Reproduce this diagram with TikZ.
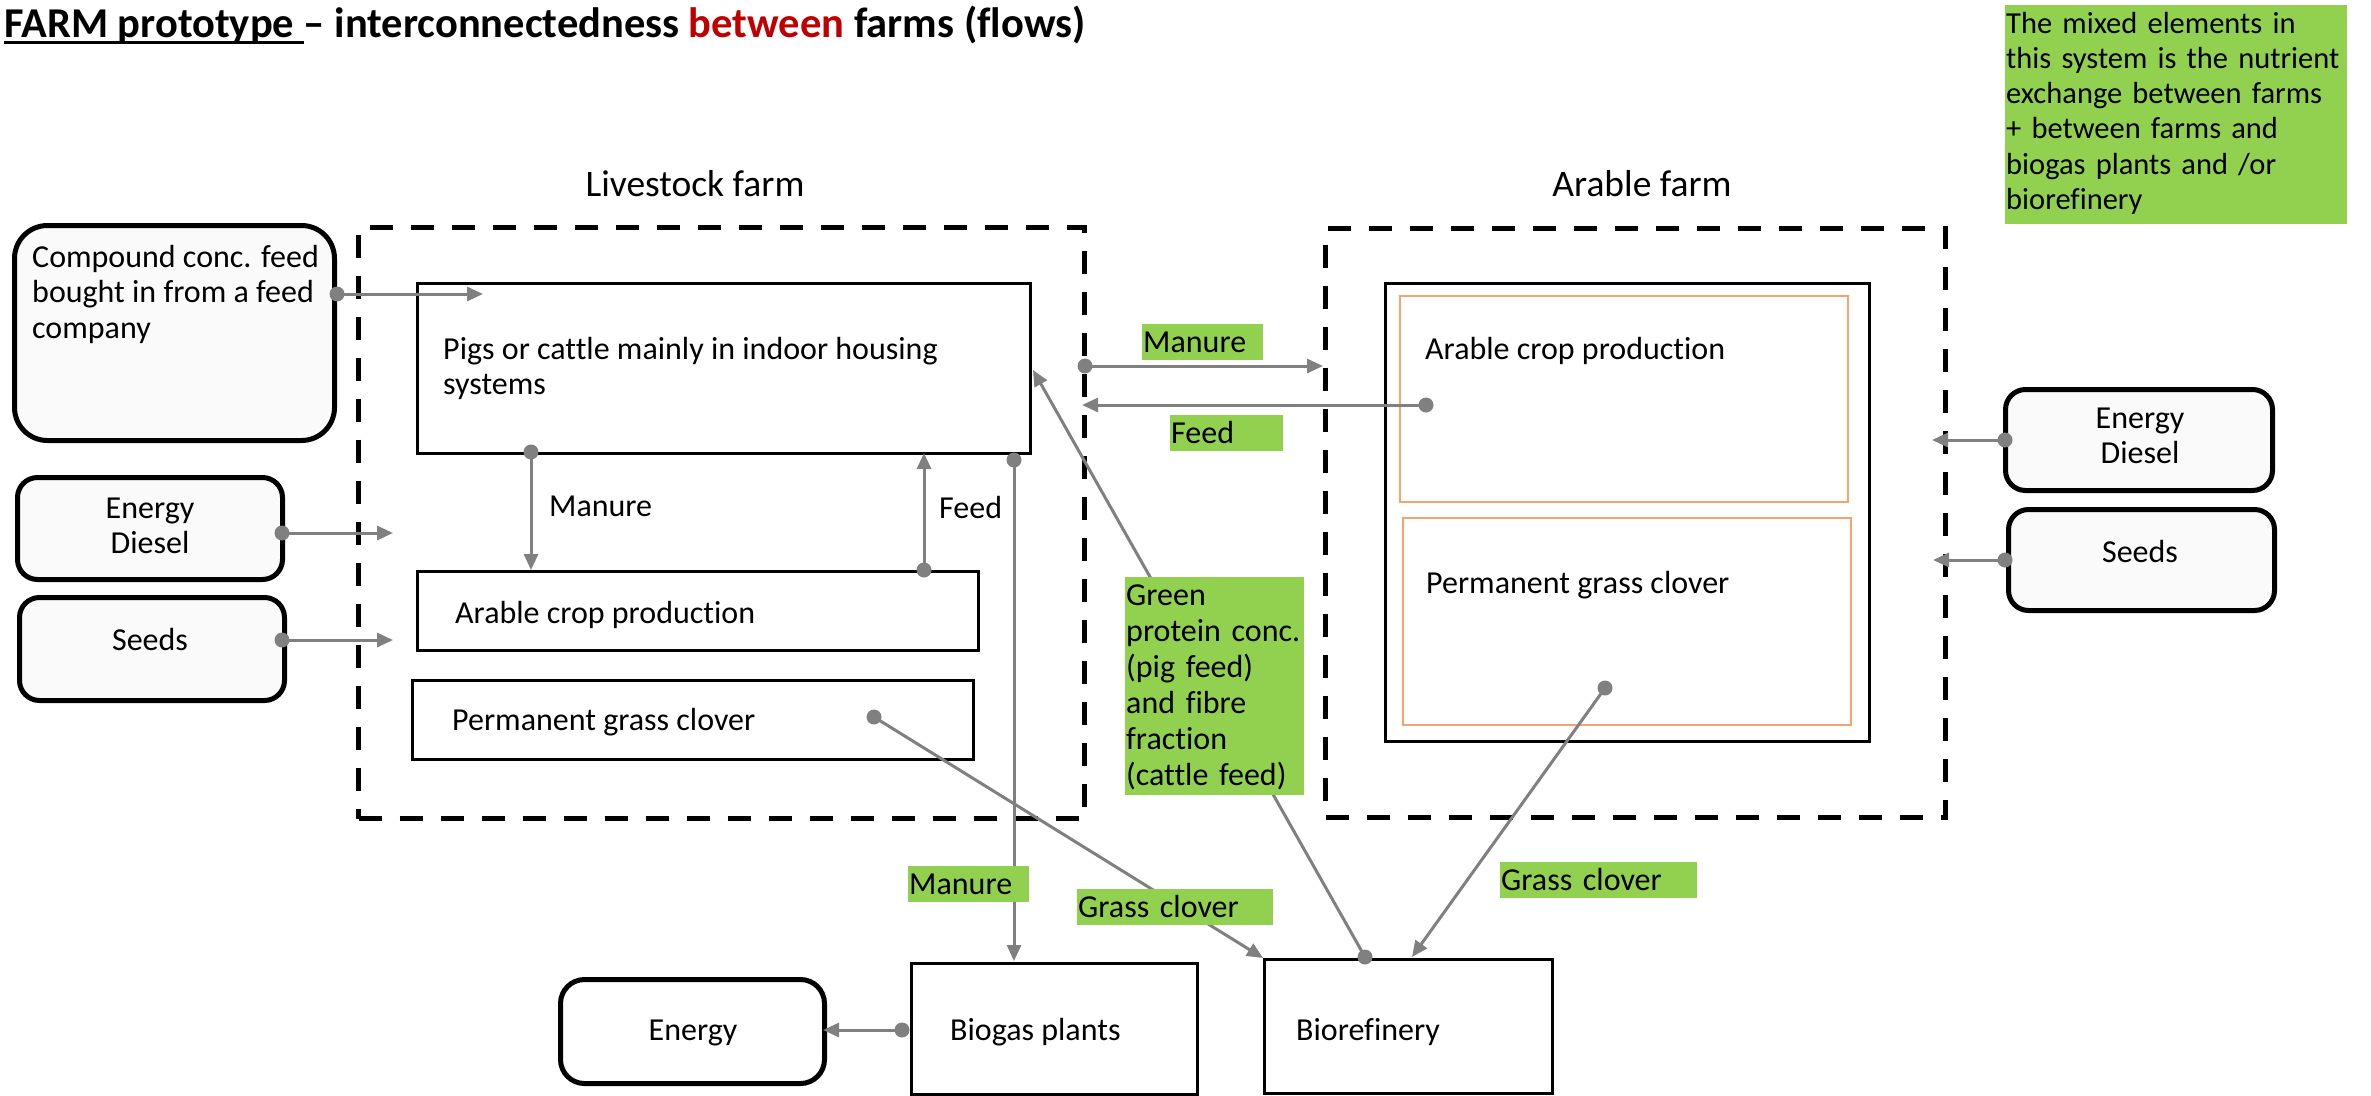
\documentclass[tikz,border=0pt]{standalone}
\usepackage{fontspec}
\setmainfont{Carlito}[Ligatures=NoCommon]
\usetikzlibrary{arrows.meta}

\definecolor{flowgray}{HTML}{808080}
\definecolor{notegreen}{HTML}{92D050}
\definecolor{softfill}{HTML}{FAFAFA}
\definecolor{plotline}{HTML}{F4A46E}
\definecolor{darkred}{HTML}{C00000}

% struts that fix the first baseline and the last depth of text blocks
\newcommand\firstline{\rule{0pt}{28pt}}
\newcommand\lastline[1]{\rule[-#1pt]{0pt}{#1pt}}
\newcommand\tagstrut{\rule[-8pt]{0pt}{36pt}}
% underlined lead-in of the heading
\newcommand\ulbox[1]{\setbox0\hbox{#1}\rlap{\rule[-7pt]{\wd0}{3pt}}\box0}
% grey flow: dot at the start, triangle at the end
\newcommand\flowline[2]{\draw[flow] (#1) -- (#2); \fill[flowgray] (#1) circle (7.5);}

\begin{document}
\begin{tikzpicture}[x=1pt,y=-1pt,
  every node/.style={font=\fontsize{32}{35.5}\selectfont, inner sep=0pt},
  farm/.style={draw, line width=5, dash pattern=on 23pt off 18pt, anchor=north west},
  unit/.style={draw, line width=2.5, anchor=north west},
  plot/.style={draw=plotline, line width=1.6, anchor=north west},
  source/.style={draw, line width=5, fill=softfill, rounded corners=20, anchor=north west},
  tag/.style={fill=notegreen, anchor=north west, inner xsep=1pt, align=left},
  txt/.style={anchor=north west, align=left},
  ctxt/.style={anchor=north, align=center},
  flow/.style={draw=flowgray, line width=3, -{Triangle[length=16pt,width=14pt]}},
]
\useasboundingbox (0,0) rectangle (2371,1095);
\fill[white] (0,0) rectangle (2371,1095);

% heading
\node[anchor=base west, font=\bfseries\fontsize{42.5}{48}\selectfont] (title) at (4,37)
  {\ulbox{FARM prototype\ }– interconnectedness \textcolor{darkred}{between} farms (flows)};

% farm frames
\node[farm, minimum width=726, minimum height=591] (livestock) at (356,225) {};
\node[farm, minimum width=620, minimum height=589] (arable) at (1323,226) {};
\node[anchor=base, font=\fontsize{37.5}{42}\selectfont] (livestockName) at (695,196) {Livestock farm};
\node[anchor=base, font=\fontsize{37.5}{42}\selectfont] (arableName) at (1642,196) {Arable farm};

% livestock farm units
\node[unit, minimum width=613, minimum height=170] (pigs) at (416,282) {};
\node[txt] (pigsText) at (443,331) {\firstline Pigs or cattle mainly in indoor housing\\systems};
\node[unit, minimum width=561, minimum height=79] (cropL) at (416,570) {};
\node[anchor=base west] (cropLText) at (455,623) {Arable crop production};
\node[unit, minimum width=561, minimum height=79] (grassL) at (411,679) {};
\node[anchor=base west] (grassLText) at (452,730) {Permanent grass clover};

% arable farm units
\node[unit, minimum width=484, minimum height=458] (arableUnit) at (1384,282) {};
\node[plot, minimum width=448, minimum height=206] (cropR) at (1399,295) {};
\node[anchor=base west] (cropRText) at (1425,359) {Arable crop production};
\node[plot, minimum width=448, minimum height=207] (grassR) at (1402,517) {};
\node[anchor=base west] (grassRText) at (1426,593) {Permanent grass clover};

% processing plants and outputs
\node[unit, minimum width=286, minimum height=131] (biogas) at (910,962) {};
\node[anchor=base west] (biogasText) at (950,1040) {Biogas plants};
\node[unit, minimum width=288, minimum height=134] (biorefinery) at (1263,958) {};
\node[anchor=base west] (biorefineryText) at (1296,1040) {Biorefinery};
\node[source, fill=white, rounded corners=24, minimum width=264, minimum height=104] (energyOut) at (558,977) {};
\node[anchor=base] (energyOutText) at (693,1040) {Energy};

% flows
\coordinate (cfDot) at (337,294);   \coordinate (cfTip) at (483,294);
\coordinate (elDot) at (282,533);   \coordinate (elTip) at (393,533);
\coordinate (slDot) at (282,640);   \coordinate (slTip) at (393,640);
\coordinate (mDot) at (531,452);    \coordinate (mTip) at (531,570);
\coordinate (fDot) at (924,570);    \coordinate (fTip) at (924,453);
\coordinate (bgDot) at (1014,460);  \coordinate (bgTip) at (1014,961);
\coordinate (mxDot) at (1085,366);  \coordinate (mxTip) at (1323,366);
\coordinate (fxDot) at (1426,405);  \coordinate (fxTip) at (1082,405);
\coordinate (gpDot) at (1365,957);  \coordinate (gpTip) at (1033,370);
\coordinate (glDot) at (874,717);   \coordinate (glTip) at (1263,958);
\coordinate (grDot) at (1605,688);  \coordinate (grTip) at (1412,957);
\coordinate (eoDot) at (902,1030);  \coordinate (eoTip) at (823,1030);
\coordinate (erDot) at (2005,440);  \coordinate (erTip) at (1932,440);
\coordinate (srDot) at (2005,560);  \coordinate (srTip) at (1933,560);

\flowline{mDot}{mTip}
\flowline{fDot}{fTip}
\flowline{bgDot}{bgTip}
\flowline{mxDot}{mxTip}
\flowline{fxDot}{fxTip}
\flowline{gpDot}{gpTip}
\flowline{glDot}{glTip}
\flowline{grDot}{grTip}
\flowline{eoDot}{eoTip}

\node[anchor=base west] (manureIn) at (549,516) {Manure};
\node[anchor=base west] (feedIn) at (939,518) {Feed};

% green flow labels
\node[tag, text width=119] (tagManureTop) at (1142,324) {\tagstrut Manure};
\node[tag, text width=111] (tagFeed) at (1170,415) {\tagstrut Feed};
\node[tag, text width=177, font=\fontsize{32}{36}\selectfont] (tagProtein) at (1125,577)
  {\firstline Green\\protein conc.\\(pig feed)\\and fibre\\fraction\\(cattle feed)\lastline{10}};
\node[tag, text width=119] (tagManureLow) at (908,866) {\tagstrut Manure};
\node[tag, text width=194] (tagGrassMid) at (1077,889) {\tagstrut Grass clover};
\node[tag, text width=195] (tagGrassRight) at (1500,862) {\tagstrut Grass clover};
\node[tag, text width=340, font=\fontsize{30.5}{35.2}\selectfont] (note) at (2005,5)
  {\firstline The mixed elements in\\\mbox{this system is the nutrient}\\exchange between farms\\+ between farms and\\biogas plants and /or\\biorefinery\lastline{15}};

% bought-in inputs
\node[source, rounded corners=33, minimum width=320, minimum height=215] (compound) at (12,223) {};
\node[txt] (compoundText) at (32,239) {\firstline Compound conc. feed\\bought in from a feed\\company};
\node[source, minimum width=265, minimum height=102] (energyL) at (15,475) {};
\node[ctxt] (energyLText) at (150,490) {\firstline Energy\\Diesel};
\node[source, minimum width=265, minimum height=103] (seedsL) at (17,595) {};
\node[anchor=base] (seedsLText) at (150,650) {Seeds};
\node[source, minimum width=267, minimum height=101] (energyR) at (2003,387) {};
\node[ctxt] (energyRText) at (2140,400) {\firstline Energy\\Diesel};
\node[source, minimum width=266, minimum height=101] (seedsR) at (2006,507) {};
\node[anchor=base] (seedsRText) at (2140,562) {Seeds};

\flowline{cfDot}{cfTip}
\flowline{elDot}{elTip}
\flowline{slDot}{slTip}
\flowline{erDot}{erTip}
\flowline{srDot}{srTip}
\end{tikzpicture}
\end{document}
